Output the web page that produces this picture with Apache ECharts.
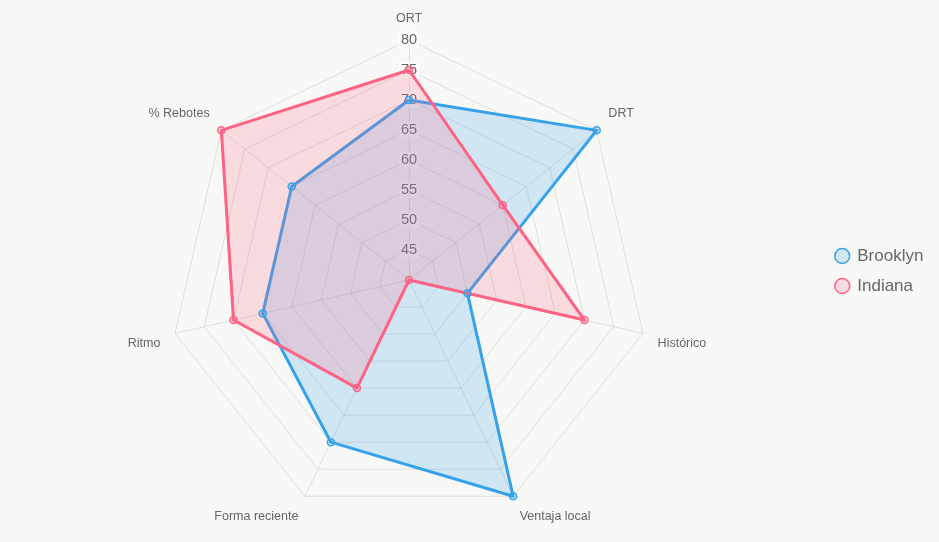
<!DOCTYPE html>
<html>
<head>
<meta charset="utf-8">
<script src="https://cdn.jsdelivr.net/npm/echarts@6/dist/echarts.min.js"></script>
<style>
  html, body { margin: 0; padding: 0; background: #f8f8f6; }
  #chart { width: 939px; height: 542px; }
</style>
</head>
<body>
<div id="chart"></div>
<script>
// ejes en el orden de la imagen (sentido horario desde arriba)
const categories = ['ORT', 'DRT', 'Histórico', 'Ventaja local', 'Forma reciente', 'Ritmo', '% Rebotes']
const brooklyn = [70, 80, 50, 80, 70, 65, 65]
const indiana = [75, 60, 70, 40, 60, 70, 80]
const scaleMin = 40
const scaleMax = 80
const scaleStep = 5

// echarts dibuja el radar en sentido antihorario -> invertimos el resto
const order = [0].concat(categories.map((c, i) => i).slice(1).reverse())
const pick = arr => order.map(i => arr[i])

// etiquetas arriba del punto en la mitad superior, debajo en la inferior
const upNames = ['DRT', '% Rebotes']
const downNames = ['Histórico', 'Ventaja local', 'Forma reciente', 'Ritmo']

const font = 'Liberation Sans, Arial, sans-serif'
const blue = 'rgb(54, 162, 235)'
const blueFill = 'rgba(54, 162, 235, 0.2)'
const pink = 'rgb(255, 99, 132)'
const pinkFill = 'rgba(255, 99, 132, 0.2)'

const chart = echarts.init(document.getElementById('chart'))

chart.setOption({
  backgroundColor: '#f8f8f6',
  animation: false,
  textStyle: { fontFamily: font },
  legend: {
    orient: 'vertical',
    left: 829,
    top: 'middle',
    icon: 'circle',
    itemWidth: 20,
    itemHeight: 15,
    itemGap: 13,
    textStyle: { color: '#666', fontSize: 17, fontFamily: font },
    data: [
      { name: 'Brooklyn', itemStyle: { color: blueFill, borderColor: blue, borderWidth: 1.5 } },
      { name: 'Indiana', itemStyle: { color: pinkFill, borderColor: pink, borderWidth: 1.5 } }
    ]
  },
  radar: {
    z: 0,
    center: [409, 280],
    radius: 240,
    startAngle: 90,
    shape: 'polygon',
    splitNumber: (scaleMax - scaleMin) / scaleStep,
    nameGap: 15,
    axisName: {
      color: '#666',
      fontSize: 12.5,
      fontFamily: font,
      formatter: name => {
        if (upNames.includes(name)) return '{up|' + name + '}'
        if (downNames.includes(name)) return '{down|' + name + '}'
        return name
      },
      rich: {
        up: { padding: [0, 0, 15, 0], color: '#666', fontSize: 12.5, fontFamily: font },
        down: { padding: [13, 0, 0, 0], color: '#666', fontSize: 12.5, fontFamily: font }
      }
    },
    axisLine: { lineStyle: { color: 'rgba(0,0,0,0.1)' } },
    splitLine: { lineStyle: { color: 'rgba(0,0,0,0.1)' } },
    splitArea: { show: false },
    indicator: pick(categories).map(name => ({ name, min: scaleMin, max: scaleMax }))
  },
  // eje polar auxiliar solo para las etiquetas de escala sobre ORT
  polar: { center: [409, 280], radius: 240 },
  angleAxis: { show: false, startAngle: 90, min: 0, max: 360 },
  radiusAxis: {
    z: 1,
    min: scaleMin,
    max: scaleMax,
    interval: scaleStep,
    axisLine: { show: false },
    axisTick: { show: false },
    splitLine: { show: false },
    axisLabel: {
      showMinLabel: false,
      margin: 0,
      align: 'center',
      verticalAlign: 'middle',
      color: '#666',
      fontSize: 14.5,
      fontFamily: font,
      backgroundColor: 'rgba(255,255,255,0.75)',
      padding: [1, 2]
    }
  },
  series: [{
    type: 'radar',
    z: 2,
    symbol: 'circle',
    symbolSize: 7,
    data: [
      {
        name: 'Brooklyn',
        value: pick(brooklyn),
        lineStyle: { color: blue, width: 3 },
        itemStyle: { color: blueFill, borderColor: blue, borderWidth: 1.5 },
        areaStyle: { color: blueFill, opacity: 1 }
      },
      {
        name: 'Indiana',
        value: pick(indiana),
        lineStyle: { color: pink, width: 3 },
        itemStyle: { color: pinkFill, borderColor: pink, borderWidth: 1.5 },
        areaStyle: { color: pinkFill, opacity: 1 }
      }
    ]
  }]
})
</script>
</body>
</html>
